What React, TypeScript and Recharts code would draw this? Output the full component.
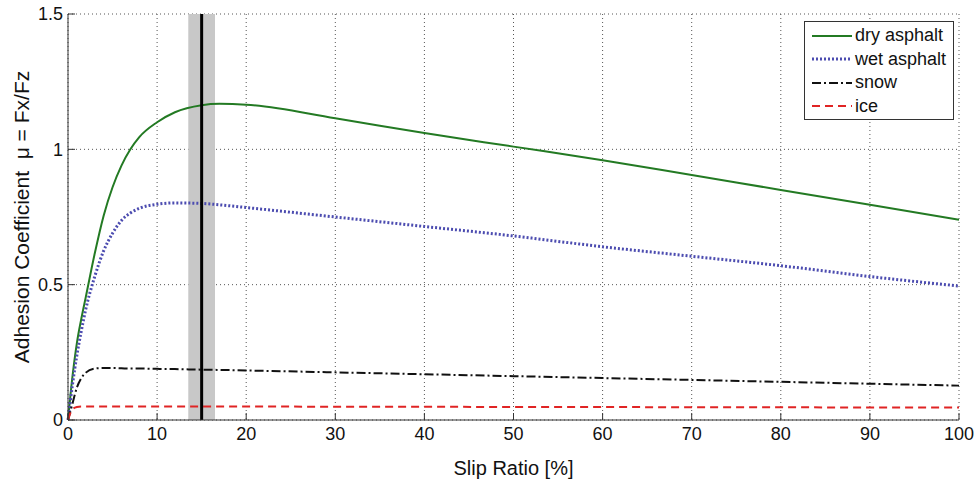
import {
  ComposedChart,
  Line,
  XAxis,
  YAxis,
  CartesianGrid,
  ReferenceArea,
  ReferenceLine,
  Legend,
} from 'recharts';

// slip ratio in %
const slip = [0, 0.5, 1, 1.5, 2, 3, 4, 5, 6, 7, 8, 10, 12, 15, 17, 20, 30, 40, 50, 60, 70, 80, 90, 100];

// adhesion coefficient
const dryAsphalt = [0, 0.16, 0.285, 0.375, 0.455, 0.615, 0.755, 0.86, 0.94, 1.0, 1.045, 1.1, 1.137, 1.163, 1.168, 1.165, 1.115, 1.06, 1.01, 0.96, 0.905, 0.85, 0.795, 0.74];
const wetAsphalt = [0, 0.13, 0.24, 0.33, 0.41, 0.53, 0.625, 0.69, 0.737, 0.765, 0.782, 0.797, 0.802, 0.8, 0.795, 0.785, 0.75, 0.715, 0.68, 0.64, 0.605, 0.57, 0.53, 0.495];
const snow = [0, 0.06, 0.12, 0.155, 0.175, 0.19, 0.192, 0.192, 0.191, 0.19, 0.19, 0.189, 0.188, 0.186, 0.185, 0.183, 0.176, 0.169, 0.162, 0.155, 0.148, 0.141, 0.134, 0.127];
const ice = [0, 0.04, 0.048, 0.05, 0.05, 0.05, 0.05, 0.05, 0.05, 0.05, 0.05, 0.05, 0.05, 0.05, 0.05, 0.05, 0.049, 0.049, 0.048, 0.048, 0.047, 0.047, 0.046, 0.046];

const xTicks = [0, 10, 20, 30, 40, 50, 60, 70, 80, 90, 100];
const yTicks = [0, 0.5, 1, 1.5];

// optimal slip band and its centre
const bandFrom = 13.5;
const bandTo = 16.5;
const optimalSlip = 15;

const data = slip.map((s, i) => ({
  slip: s,
  dry: dryAsphalt[i],
  wet: wetAsphalt[i],
  snow: snow[i],
  ice: ice[i],
}));

const series = [
  { key: 'dry', name: 'dry asphalt', color: '#237a23', width: 2, dash: undefined },
  { key: 'wet', name: 'wet asphalt', color: '#4c4cb0', width: 3, dash: '2 2' },
  { key: 'snow', name: 'snow', color: '#111111', width: 2, dash: '9 3 2 3' },
  { key: 'ice', name: 'ice', color: '#e02424', width: 2, dash: '8 5' },
];

const font = '"Liberation Sans", Arial, sans-serif';
const axisColor = '#333333';

const LegendBox = () => (
  <div
    style={{
      width: 148,
      height: 97,
      border: `1px solid ${axisColor}`,
      background: '#fff',
      fontFamily: font,
      fontSize: 18,
      color: '#111',
      boxSizing: 'content-box',
    }}
  >
    {series.map((s, i) => (
      <div key={s.key} style={{ display: 'flex', alignItems: 'center', height: 23.5, marginTop: i === 0 ? 2 : 0 }}>
        <svg width={50} height={10} style={{ flex: 'none' }}>
          <line x1={7} x2={47} y1={5} y2={5} stroke={s.color} strokeWidth={s.width} strokeDasharray={s.dash} />
        </svg>
        <span>{s.name}</span>
      </div>
    ))}
  </div>
);

export default function App() {
  return (
    <div style={{ position: 'absolute', left: 0, top: 0, background: '#fff' }}>
      <ComposedChart
        width={977}
        height={480}
        data={data}
        margin={{ top: 14, right: 18, bottom: 0, left: 0 }}
      >
        <CartesianGrid stroke="#555" strokeDasharray="1 3" />
        <ReferenceArea x1={bandFrom} x2={bandTo} fill="#c8c8c8" fillOpacity={1} stroke="none" />
        <XAxis
          dataKey="slip"
          type="number"
          domain={[0, 100]}
          ticks={xTicks}
          interval={0}
          height={60}
          stroke={axisColor}
          tickSize={-7}
          tickMargin={14}
          tick={{ fill: '#111', fontSize: 18, fontFamily: font }}
          label={{ value: 'Slip Ratio [%]', position: 'insideBottom', offset: 5, fill: '#111', fontSize: 20, fontFamily: font }}
        />
        <XAxis
          xAxisId="top"
          orientation="top"
          type="number"
          domain={[0, 100]}
          ticks={xTicks}
          height={0}
          stroke={axisColor}
          tickSize={7}
          tick={false}
        />
        <YAxis
          type="number"
          domain={[0, 1.5]}
          ticks={yTicks}
          interval={0}
          width={68}
          stroke={axisColor}
          tickSize={-7}
          tickMargin={12}
          tick={{ fill: '#111', fontSize: 18, fontFamily: font }}
          label={{ value: 'Adhesion Coefficient\u00a0 \u03bc = Fx/Fz', angle: -90, position: 'center', dx: -12, fill: '#111', fontSize: 21, fontFamily: font }}
        />
        <YAxis
          yAxisId="right"
          orientation="right"
          type="number"
          domain={[0, 1.5]}
          ticks={yTicks}
          width={0}
          stroke={axisColor}
          tickSize={7}
          tick={false}
        />
        {series.map((s) => (
          <Line
            key={s.key}
            dataKey={s.key}
            name={s.name}
            type="monotone"
            stroke={s.color}
            strokeWidth={s.width}
            strokeDasharray={s.dash}
            dot={false}
            activeDot={false}
            isAnimationActive={false}
          />
        ))}
        <ReferenceLine x={optimalSlip} stroke="#000" strokeWidth={3} />
        <Legend
          layout="horizontal"
          verticalAlign="middle"
          align="center"
          content={() => <LegendBox />}
          wrapperStyle={{ top: 21, left: 804, right: 'auto', width: 150 }}
        />
      </ComposedChart>
    </div>
  );
}
